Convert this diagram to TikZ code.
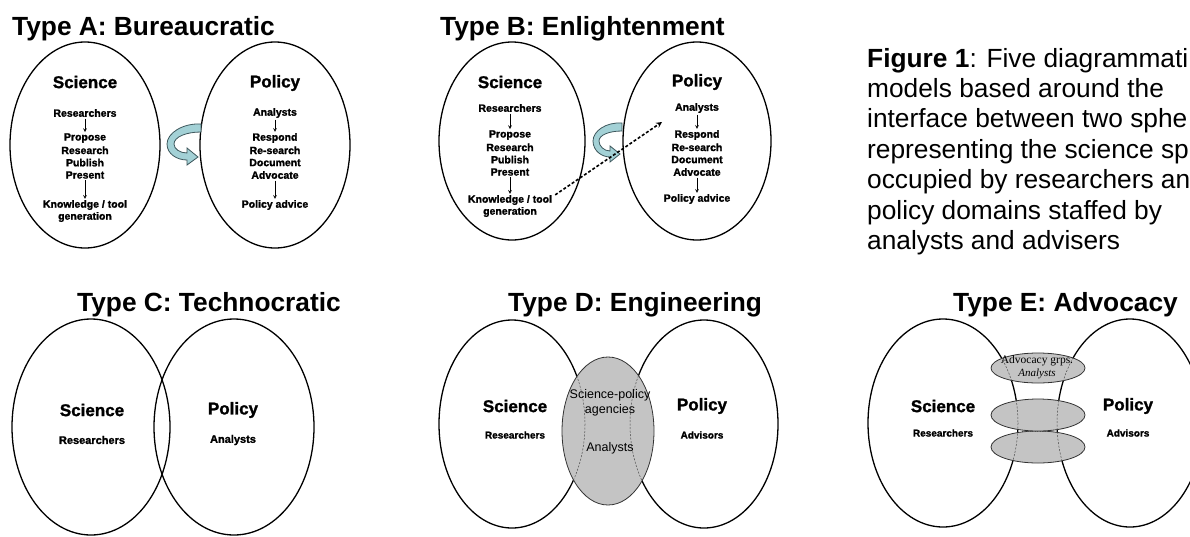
\documentclass[tikz,border=0pt]{standalone}
\usepackage{fontspec}
\setmainfont{Liberation Sans}
\newfontfamily\grpfont{Liberation Serif}
\newfontfamily\heavyfont{Liberation Sans Bold}[FakeBold=1.5]
\usetikzlibrary{shapes.geometric}
\newlength{\du}
\setlength{\du}{1pt}
\definecolor{curlfill}{rgb}{0.64,0.82,0.84}
\definecolor{curledge}{rgb}{0.24,0.34,0.36}
\definecolor{agencygray}{rgb}{0.77,0.77,0.77}
\tikzset{
  sphere/.style={draw, ellipse, line width=1.3\du, inner sep=0pt},
  ttl/.style={anchor=base west, inner sep=0pt, font=\bfseries\fontsize{26.3}{30}\selectfont},
  capt/.style={anchor=base west, inner sep=0pt, font=\fontsize{26.3}{30}\selectfont},
  sphtxt/.style={inner sep=0pt, font=\heavyfont\fontsize{17}{19}\selectfont},
  lst/.style={inner sep=0pt, font=\heavyfont\fontsize{10.5}{12}\selectfont},
  dnarr/.style={-stealth, line width=0.7\du, shorten <=1.5\du, shorten >=1\du},
  curlarr/.style={fill=curlfill, draw=curledge, line width=0.8\du},
  dasharr/.style={-stealth, line width=1.6\du, dash pattern=on 3\du off 2\du},
  agency/.style={draw=black!80, fill=agencygray, line width=0.8\du, ellipse, inner sep=0pt},
  seam/.style={draw=black!70, line width=0.5\du, dash pattern=on 2\du off 1.5\du},
  agtext/.style={inner sep=0pt, font=\fontsize{12.5}{14}\selectfont},
}
\begin{document}
\begin{tikzpicture}
\pgftransformyscale{-1.000000}
\useasboundingbox (0\du,0\du) rectangle (1190\du,536\du);
% Type A
\node[ttl] (ttlA) at (12\du,35\du) {Type A: Bureaucratic};
\node[sphere, minimum width=150\du, minimum height=206\du] (sciA) at (85\du,145\du) {};
\node[sphere, minimum width=150\du, minimum height=206\du] (polA) at (275\du,145\du) {};
\node[sphtxt] (sciAt) at (85\du,82\du) {Science};
\node[lst] (resA) at (85\du,113\du) {Researchers};
\node[lst] (proA) at (85\du,138\du) {Propose};
\node[lst] (rchA) at (85\du,150.3\du) {Research};
\node[lst] (pubA) at (85\du,162.6\du) {Publish};
\node[lst] (preA) at (85\du,175\du) {Present};
\node[lst] (knoA) at (85\du,205\du) {Knowledge / tool};
\node[lst] (genA) at (85\du,217\du) {generation};
\draw[dnarr] (resA) -- (proA);
\draw[dnarr] (preA) -- (knoA);
\node[sphtxt] (polAt) at (275\du,83\du) {Policy};
\node[lst] (anaA) at (275\du,113\du) {Analysts};
\node[lst] (rspA) at (275\du,138\du) {Respond};
\node[lst] (rsrA) at (275\du,150.3\du) {Re-search};
\node[lst] (docA) at (275\du,162.6\du) {Document};
\node[lst] (advA) at (275\du,175\du) {Advocate};
\node[lst] (padA) at (275\du,205\du) {Policy advice};
\draw[dnarr] (anaA) -- (rspA);
\draw[dnarr] (advA) -- (padA);
% curled arrow
\draw[curlarr] (201\du,124\du) .. controls (183\du,123\du) and (167\du,133\du) .. (167\du,144\du)
  .. controls (167\du,154\du) and (177\du,160\du) .. (187\du,160\du) -- (187\du,165\du) -- (198\du,157\du)
  -- (187\du,148\du) -- (187\du,153\du) .. controls (180\du,153\du) and (174\du,149\du) .. (174\du,144\du)
  .. controls (174\du,137\du) and (186\du,132\du) .. (201\du,132\du) -- cycle;
% Type B
\node[ttl] (ttlB) at (440\du,35\du) {Type B: Enlightenment};
\node[sphere, minimum width=146\du, minimum height=198\du] (sciB) at (512\du,141\du) {};
\node[sphere, minimum width=148\du, minimum height=198\du] (polB) at (697\du,141\du) {};
\node[sphtxt] (sciBt) at (510\du,82\du) {Science};
\node[lst] (resB) at (510\du,108\du) {Researchers};
\node[lst] (proB) at (510\du,135\du) {Propose};
\node[lst] (rchB) at (510\du,147.3\du) {Research};
\node[lst] (pubB) at (510\du,159.6\du) {Publish};
\node[lst] (preB) at (510\du,172\du) {Present};
\node[lst] (knoB) at (510\du,200\du) {Knowledge / tool};
\node[lst] (genB) at (510\du,212\du) {generation};
\draw[dnarr] (resB) -- (proB);
\draw[dnarr] (preB) -- (knoB);
\node[sphtxt] (polBt) at (697\du,82\du) {Policy};
\node[lst] (anaB) at (697\du,108\du) {Analysts};
\node[lst] (rspB) at (697\du,135\du) {Respond};
\node[lst] (rsrB) at (697\du,147.3\du) {Re-search};
\node[lst] (docB) at (697\du,159.6\du) {Document};
\node[lst] (advB) at (697\du,172\du) {Advocate};
\node[lst] (padB) at (697\du,199\du) {Policy advice};
\draw[dnarr] (anaB) -- (rspB);
\draw[dnarr] (advB) -- (padB);
\draw[curlarr] (622\du,123\du) .. controls (606\du,122\du) and (593\du,131\du) .. (593\du,141\du)
  .. controls (593\du,151\du) and (602\du,157\du) .. (610\du,157\du) -- (610\du,162\du) -- (620\du,154\du)
  -- (610\du,146\du) -- (610\du,151\du) .. controls (604\du,151\du) and (599\du,146\du) .. (599\du,141\du)
  .. controls (599\du,135\du) and (609\du,131\du) .. (622\du,131\du) -- cycle;
\coordinate (tipB) at (662\du,122\du);
\draw[dasharr] ([xshift=3\du]knoB.north east) -- (tipB);
% caption
\node[capt] (cap1) at (867\du,67\du) {\textbf{Figure 1}: Five diagrammati};
\node[capt] (cap2) at (867\du,97\du) {models based around the};
\node[capt] (cap3) at (867\du,127.5\du) {interface between two sphe};
\node[capt] (cap4) at (867\du,158\du) {representing the science sp};
\node[capt] (cap5) at (867\du,188.5\du) {occupied by researchers an};
\node[capt] (cap6) at (867\du,219\du) {policy domains staffed by};
\node[capt] (cap7) at (867\du,249.5\du) {analysts and advisers};
% Type C
\node[ttl] (ttlC) at (77\du,311\du) {Type C: Technocratic};
\node[sphere, minimum width=158\du, minimum height=216\du] (sciC) at (91\du,427\du) {};
\node[sphere, minimum width=160\du, minimum height=216\du] (polC) at (234\du,427\du) {};
\node[sphtxt] (sciCt) at (92\du,410\du) {Science};
\node[lst, font=\heavyfont\fontsize{11}{12}\selectfont] (resC) at (92\du,440\du) {Researchers};
\node[sphtxt] (polCt) at (233\du,410\du) {Policy};
\node[lst, font=\heavyfont\fontsize{11}{12}\selectfont] (anaC) at (233\du,440\du) {Analysts};
% Type D
\node[ttl] (ttlD) at (508\du,311\du) {Type D: Engineering};
\node[sphere, minimum width=146\du, minimum height=208\du] (sciD) at (512\du,424\du) {};
\node[sphere, minimum width=148\du, minimum height=208\du] (polD) at (704\du,424\du) {};
\node[agency, minimum width=92\du, minimum height=148\du] (agD) at (608\du,431\du) {};
\begin{scope}
\clip (agD.center) ellipse ({46\du} and {74\du});
\draw[seam] (sciD.center) ellipse ({73\du} and {104\du});
\draw[seam] (polD.center) ellipse ({74\du} and {104\du});
\end{scope}
\node[sphtxt] (sciDt) at (515\du,406\du) {Science};
\node[lst, font=\heavyfont\fontsize{10}{12}\selectfont] (resD) at (515\du,435\du) {Researchers};
\node[sphtxt] (polDt) at (702\du,406\du) {Policy};
\node[lst, font=\heavyfont\fontsize{10}{12}\selectfont] (advD) at (702\du,435\du) {Advisors};
\node[agtext] (spaD) at (610\du,395\du) {Science-policy};
\node[agtext] (ageD) at (610\du,410\du) {agencies};
\node[agtext] (anaD) at (610\du,448\du) {Analysts};
% Type E
\node[ttl] (ttlE) at (953\du,311\du) {Type E: Advocacy};
\node[sphere, minimum width=150\du, minimum height=208\du] (sciE) at (943\du,423\du) {};
\node[sphere, minimum width=146\du, minimum height=208\du] (polE) at (1130\du,423\du) {};
\node[agency, minimum width=94\du, minimum height=30\du] (advE) at (1038\du,368\du) {};
\node[agency, minimum width=94\du, minimum height=32\du] (lowE) at (1038\du,447\du) {};
\node[agency, minimum width=94\du, minimum height=32\du] (midE) at (1038\du,415\du) {};
\begin{scope}
\clip (advE.center) ellipse ({47\du} and {15\du});
\draw[seam] (sciE.center) ellipse ({75\du} and {104\du});
\draw[seam] (polE.center) ellipse ({73\du} and {104\du});
\end{scope}
\begin{scope}
\clip (midE.center) ellipse ({47\du} and {16\du});
\draw[seam] (sciE.center) ellipse ({75\du} and {104\du});
\draw[seam] (polE.center) ellipse ({73\du} and {104\du});
\end{scope}
\begin{scope}
\clip (lowE.center) ellipse ({47\du} and {16\du});
\draw[seam] (sciE.center) ellipse ({75\du} and {104\du});
\draw[seam] (polE.center) ellipse ({73\du} and {104\du});
\end{scope}
\draw[seam, dash pattern=on 1\du off 1.5\du] ([xshift=-16\du]midE.south) -- ([xshift=12\du]midE.south);
\node[sphtxt] (sciEt) at (943\du,406\du) {Science};
\node[lst, font=\heavyfont\fontsize{10}{12}\selectfont] (resE) at (943\du,433\du) {Researchers};
\node[sphtxt] (polEt) at (1128\du,406\du) {Policy};
\node[lst, font=\heavyfont\fontsize{10}{12}\selectfont] (advE2) at (1128\du,433\du) {Advisors};
\node[agtext, font=\grpfont\fontsize{11.5}{13}\selectfont] (grpE) at (1037\du,361\du) {Advocacy grps.};
\node[agtext, font=\grpfont\itshape\fontsize{11}{13}\selectfont] (anaE) at (1037\du,374\du) {Analysts};
\end{tikzpicture}
\end{document}
